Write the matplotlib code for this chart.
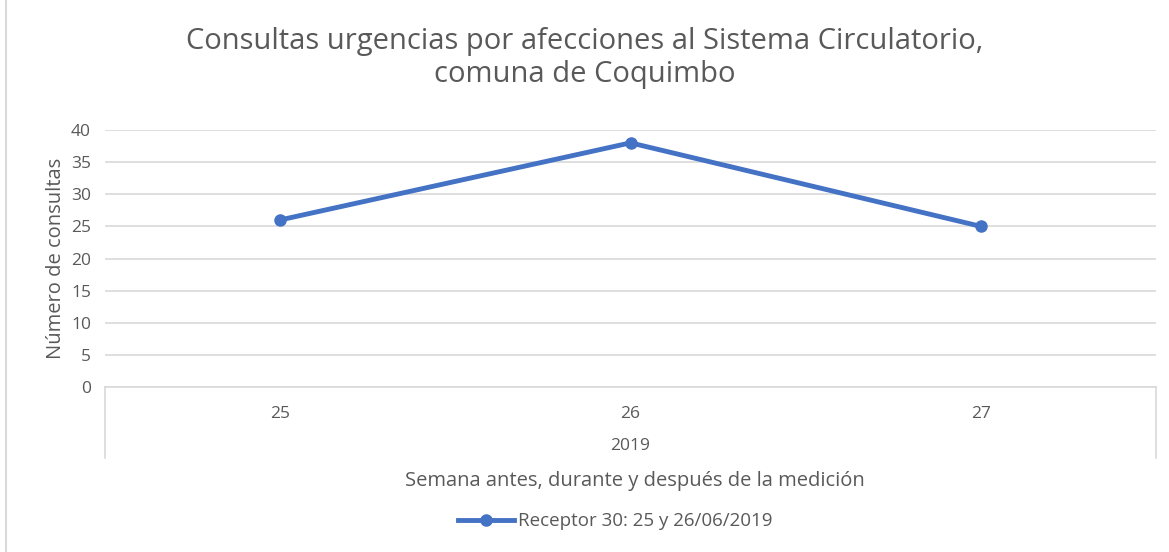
import matplotlib.pyplot as plt
import matplotlib.patches as mpatches

plt.rcParams['font.family'] = ['Open Sans', 'DejaVu Sans']

# Data
weeks = ['25', '26', '27']
year_label = '2019'
consultas = [26, 38, 25]
series_name = 'Receptor 30: 25 y 26/06/2019'

text_gray = '#595959'
grid_gray = '#D9D9D9'
line_blue = '#4472C4'

fig = plt.figure(figsize=(11.69, 5.52), dpi=100)
ax = fig.add_axes([0.0898, 0.2989, 0.8991, 0.4656])

x = list(range(len(weeks)))
ax.plot(x, consultas, color=line_blue, linewidth=3.5, marker='o',
        markersize=8, label=series_name, zorder=3)

ax.set_xlim(-0.5, len(weeks) - 0.5)
ax.set_ylim(0, 40)
ax.set_yticks(range(0, 41, 5))
ax.grid(axis='y', color=grid_gray, linewidth=1.2)
ax.set_axisbelow(True)
for s in ['top', 'right', 'left']:
    ax.spines[s].set_visible(False)
ax.spines['bottom'].set_color(grid_gray)
ax.spines['bottom'].set_linewidth(1.2)
ax.tick_params(axis='both', length=0, labelsize=12.5, labelcolor=text_gray)
ax.tick_params(axis='x', pad=14)
ax.tick_params(axis='y', pad=10)
ax.set_xticks(x)
ax.set_xticklabels(weeks)

# multi-level category box
for xa in [0, 1]:
    ax.plot([xa, xa], [0, -0.276], transform=ax.transAxes, color=grid_gray,
            linewidth=1.2, clip_on=False)
ax.text(0.5, -0.23, year_label, transform=ax.transAxes, ha='center', va='center',
        fontsize=12.5, color=text_gray)

ax.set_ylabel('Número de consultas', fontsize=14.5, color=text_gray, labelpad=4)
fig.text(0.5428, 0.129, 'Semana antes, durante y después de la medición',
         ha='center', va='center', fontsize=14.5, color=text_gray)

fig.text(0.5, 0.895, 'Consultas urgencias por afecciones al Sistema Circulatorio,\ncomuna de Coquimbo',
         ha='center', va='center', fontsize=21, color=text_gray, linespacing=1.15)

leg = fig.legend(loc='center', bbox_to_anchor=(0.526, 0.056), frameon=False,
                 fontsize=13.5, handlelength=3, handletextpad=0.2)
for t in leg.get_texts():
    t.set_color(text_gray)

# outer chart border (only left edge visible in the crop)
fig.add_artist(plt.Line2D([0.005, 0.005], [0, 1], transform=fig.transFigure,
                          color=grid_gray, linewidth=1.5))

fig.savefig('out.png', dpi=100)
